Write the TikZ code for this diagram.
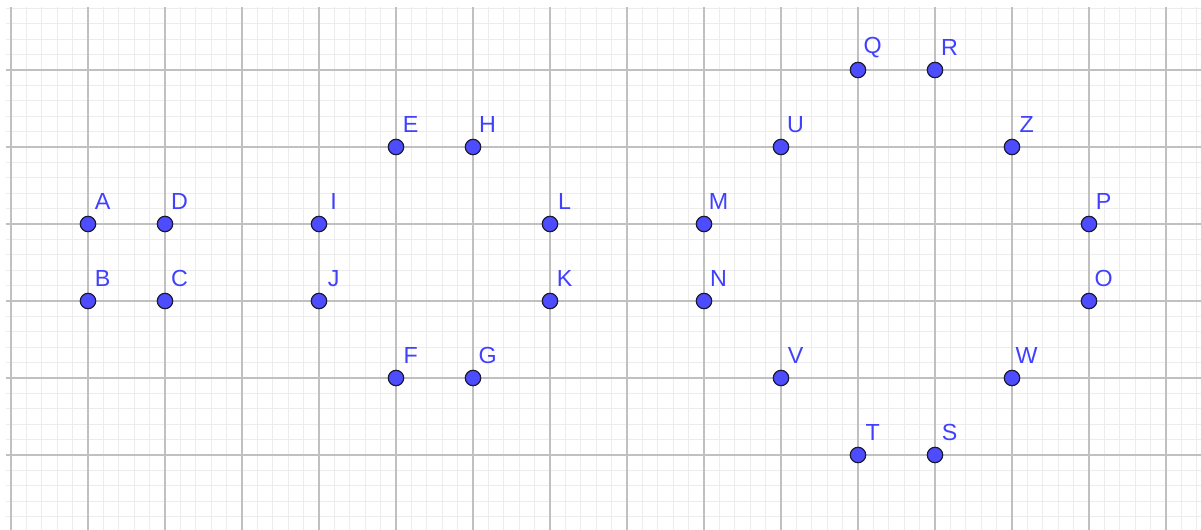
\documentclass[tikz,border=0pt]{standalone}
\usepackage{fontspec}
\setmainfont{Liberation Sans}
\usetikzlibrary{positioning}

\definecolor{ptfill}{RGB}{77,77,255}
\definecolor{ptline}{RGB}{26,26,51}
\definecolor{lblblue}{RGB}{64,64,255}
\definecolor{majgray}{RGB}{192,192,192}
\definecolor{mingray}{RGB}{236,236,236}

\begin{document}
\begin{tikzpicture}[
      minor/.style={draw=mingray,line width=0.4pt},
      major/.style={draw=majgray,line width=0.55pt},
      pt/.style={circle,fill=ptfill,draw=ptline,line width=0.45pt,
                 inner sep=0pt,minimum size=0.2cm},
      lbl/.style={text=lblblue,font=\fontsize{8.6}{9}\selectfont,
                  inner sep=0pt,xshift=0.19cm,yshift=0.29cm},
    ]
      \useasboundingbox (-1.1429,-0.974) rectangle (14.4545,5.909);
      % grid
      \draw[minor] (-1.065,-0.974) grid[step=0.2] (14.455,5.818);
      \draw[major] (-1.065,-0.974) grid[step=1] (14.455,5.818);
      % square
      \node[pt,label={[lbl]center:A}] (A) at (0,3) {};
      \node[pt,label={[lbl]center:D}] (D) at (1,3) {};
      \node[pt,label={[lbl]center:B}] (B) at (0,2) {};
      \node[pt,label={[lbl]center:C}] (C) at (1,2) {};
      % hexagon-ish
      \node[pt,label={[lbl]center:E}] (E) at (4,4) {};
      \node[pt,label={[lbl]center:H}] (H) at (5,4) {};
      \node[pt,label={[lbl]center:I}] (I) at (3,3) {};
      \node[pt,label={[lbl]center:L}] (L) at (6,3) {};
      \node[pt,label={[lbl]center:J}] (J) at (3,2) {};
      \node[pt,label={[lbl]center:K}] (K) at (6,2) {};
      \node[pt,label={[lbl]center:F}] (F) at (4,1) {};
      \node[pt,label={[lbl]center:G}] (G) at (5,1) {};
      % big ring
      \node[pt,label={[lbl]center:Q}] (Q) at (10,5) {};
      \node[pt,label={[lbl]center:R}] (R) at (11,5) {};
      \node[pt,label={[lbl]center:U}] (U) at (9,4) {};
      \node[pt,label={[lbl]center:Z}] (Z) at (12,4) {};
      \node[pt,label={[lbl]center:M}] (M) at (8,3) {};
      \node[pt,label={[lbl]center:P}] (P) at (13,3) {};
      \node[pt,label={[lbl]center:N}] (N) at (8,2) {};
      \node[pt,label={[lbl]center:O}] (O) at (13,2) {};
      \node[pt,label={[lbl]center:V}] (V) at (9,1) {};
      \node[pt,label={[lbl]center:W}] (W) at (12,1) {};
      \node[pt,label={[lbl]center:T}] (T) at (10,0) {};
      \node[pt,label={[lbl]center:S}] (S) at (11,0) {};
    \end{tikzpicture}
\end{document}
